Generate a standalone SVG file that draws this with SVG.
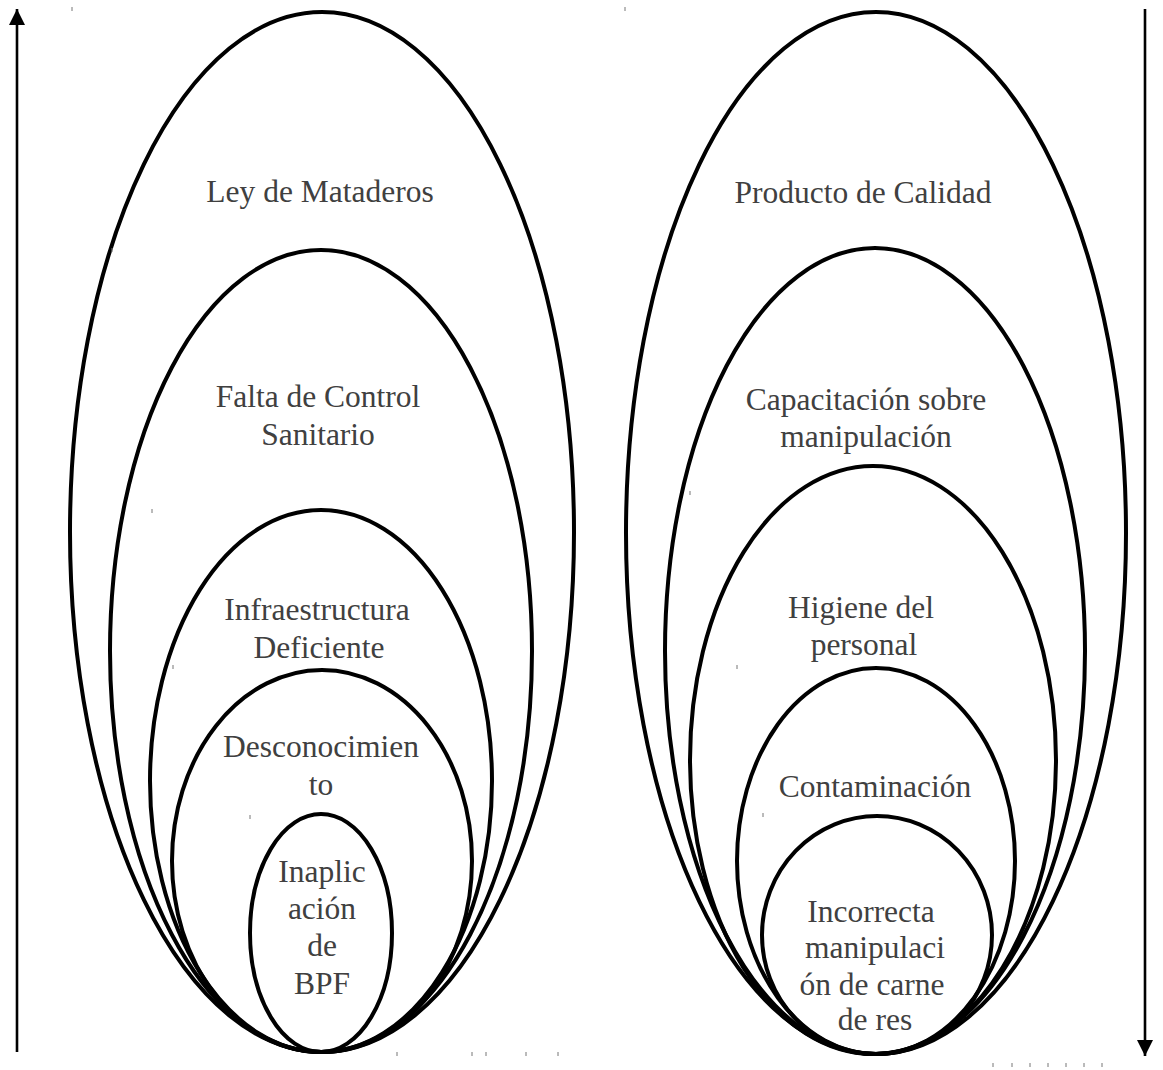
<svg xmlns="http://www.w3.org/2000/svg" width="1163" height="1070" viewBox="0 0 1163 1070">
  <defs>
    <marker id="head" viewBox="0 0 16 16" refX="16" refY="8" markerWidth="16" markerHeight="16" markerUnits="userSpaceOnUse" orient="auto">
      <path d="M0,0 L16,8 L0,16 z" fill="#000"/>
    </marker>
  </defs>
  <style>
    .ring { fill: none; stroke: #000; stroke-width: 4; }
    .lbl { font-family: "Liberation Serif", "Times New Roman", serif; font-size: 31.5px; fill: #404040; text-anchor: middle; }
    .axis { stroke: #000; stroke-width: 2.6; fill: none; }
    .tick { stroke: #777; stroke-width: 1; }
  </style>

  <!-- left stack: causes -->
  <g id="ley-mataderos">
    <ellipse class="ring" cx="322" cy="532" rx="252" ry="520"/>
    <text class="lbl" x="320" y="202">Ley de Mataderos</text>
  </g>
  <g id="falta-control">
    <ellipse class="ring" cx="321" cy="651" rx="211" ry="401"/>
    <text class="lbl" x="318" y="407">Falta de Control</text>
    <text class="lbl" x="318" y="445">Sanitario</text>
  </g>
  <g id="infraestructura">
    <ellipse class="ring" cx="321" cy="781" rx="171" ry="271"/>
    <text class="lbl" x="317" y="620">Infraestructura</text>
    <text class="lbl" x="319" y="658">Deficiente</text>
  </g>
  <g id="desconocimiento">
    <ellipse class="ring" cx="322" cy="861" rx="150" ry="191"/>
    <text class="lbl" x="321" y="757">Desconocimien</text>
    <text class="lbl" x="321" y="795">to</text>
  </g>
  <g id="inaplicacion">
    <ellipse class="ring" cx="321" cy="933" rx="71" ry="119"/>
    <text class="lbl" x="322" y="882">Inaplic</text>
    <text class="lbl" x="322" y="919">ación</text>
    <text class="lbl" x="322" y="956">de</text>
    <text class="lbl" x="322" y="994">BPF</text>
  </g>

  <!-- right stack: effects -->
  <g id="producto-calidad">
    <ellipse class="ring" cx="876" cy="533" rx="250" ry="521"/>
    <text class="lbl" x="863" y="203">Producto de Calidad</text>
  </g>
  <g id="capacitacion">
    <ellipse class="ring" cx="875" cy="651" rx="210" ry="403"/>
    <text class="lbl" x="866" y="410">Capacitación sobre</text>
    <text class="lbl" x="866" y="447">manipulación</text>
  </g>
  <g id="higiene">
    <ellipse class="ring" cx="873" cy="760" rx="183" ry="294"/>
    <text class="lbl" x="861" y="618">Higiene del</text>
    <text class="lbl" x="864" y="655">personal</text>
  </g>
  <g id="contaminacion">
    <ellipse class="ring" cx="876" cy="861" rx="139" ry="193"/>
    <text class="lbl" x="875" y="797">Contaminación</text>
  </g>
  <g id="incorrecta">
    <ellipse class="ring" cx="877" cy="935" rx="115" ry="119"/>
    <text class="lbl" x="871" y="922">Incorrecta</text>
    <text class="lbl" x="875" y="958">manipulaci</text>
    <text class="lbl" x="872" y="995">ón de carne</text>
    <text class="lbl" x="875" y="1030">de res</text>
  </g>

  <!-- side arrows -->
  <g id="connectors">
    <line class="axis" x1="17" y1="1052" x2="17" y2="9" marker-end="url(#head)"/>
    <line class="axis" x1="1145" y1="9" x2="1145" y2="1056" marker-end="url(#head)"/>
  </g>

  <!-- stray marks -->
  <g id="marks">
    <line class="tick" x1="72" y1="7" x2="72" y2="11"/>
    <line class="tick" x1="625" y1="7" x2="625" y2="11"/>
    <line class="tick" x1="112" y1="248" x2="112" y2="252"/>
    <line class="tick" x1="152" y1="509" x2="152" y2="513"/>
    <line class="tick" x1="173" y1="665" x2="173" y2="669"/>
    <line class="tick" x1="250" y1="815" x2="250" y2="819"/>
    <line class="tick" x1="397" y1="1052" x2="397" y2="1056"/>
    <line class="tick" x1="472" y1="1052" x2="472" y2="1056"/>
    <line class="tick" x1="486" y1="1052" x2="486" y2="1056"/>
    <line class="tick" x1="526" y1="1052" x2="526" y2="1056"/>
    <line class="tick" x1="558" y1="1052" x2="558" y2="1056"/>
    <line class="tick" x1="690" y1="491" x2="690" y2="495"/>
    <line class="tick" x1="737" y1="665" x2="737" y2="669"/>
    <line class="tick" x1="763" y1="813" x2="763" y2="817"/>
    <line class="tick" x1="993" y1="1063" x2="993" y2="1067"/>
    <line class="tick" x1="1012" y1="1063" x2="1012" y2="1067"/>
    <line class="tick" x1="1030" y1="1063" x2="1030" y2="1067"/>
    <line class="tick" x1="1048" y1="1063" x2="1048" y2="1067"/>
    <line class="tick" x1="1066" y1="1063" x2="1066" y2="1067"/>
    <line class="tick" x1="1084" y1="1063" x2="1084" y2="1067"/>
    <line class="tick" x1="1102" y1="1063" x2="1102" y2="1067"/>
  </g>
</svg>
